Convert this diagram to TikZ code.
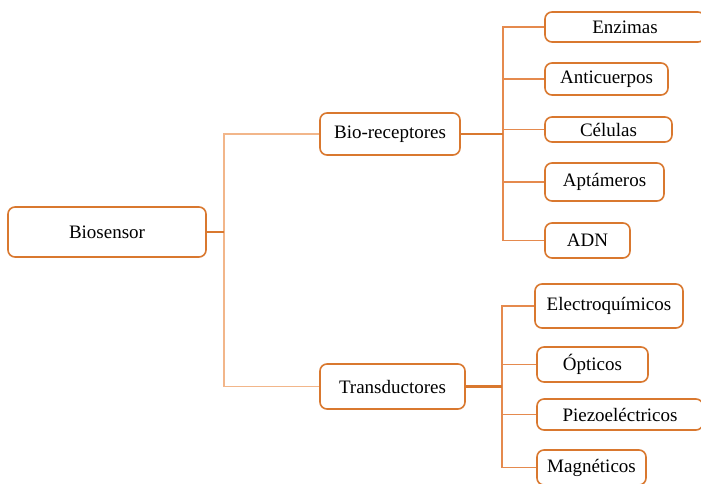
\documentclass[tikz,border=0pt]{standalone}
\usepackage{fontspec}
\setmainfont{Liberation Serif}
\usetikzlibrary{positioning,calc}
\definecolor{boxColor}{HTML}{D9782F}
\definecolor{lineColor}{HTML}{E58A4E}
\definecolor{paleColor}{HTML}{F2B68A}
\tikzset{
	item/.style={draw=boxColor, line width=1.6pt, rounded corners=7pt, fill=white,
		inner sep=0pt, font=\fontsize{19}{22}\selectfont},
	stub/.style={draw=boxColor, line width=2.4pt},
	branch/.style={draw=lineColor, line width=1.7pt},
	palebranch/.style={draw=paleColor, line width=1.9pt}
}
\begin{document}
\begin{tikzpicture}[x=1pt,y=-1pt]
	\useasboundingbox (0,0) rectangle (701,483);
	% root and first level
	\node[item, minimum width=198pt, minimum height=50pt] (bios) at (107, 232) {Biosensor};
	\node[item, minimum width=140pt, minimum height=42pt] (brec) at (390, 134) {Bio-receptores};
	\node[item, minimum width=145pt, minimum height=45pt] (trans) at (392.5, 386.5) {Transductores};
	
	% bio-receptores
	\node[item, minimum width=160pt, minimum height=30pt] (enz) at (625, 27) {Enzimas};
	\node[item, minimum width=123pt, minimum height=32pt] (anti) at (606.5, 79) {Anticuerpos};
	\node[item, minimum width=127pt, minimum height=25pt] (cel) at (608.5, 129.5) {Células};
	\node[item, minimum width=119pt, minimum height=38pt] (apt) at (604.5, 182) {Aptámeros};
	\node[item, minimum width=85pt, minimum height=35pt] (adn) at (587.5, 240.5) {ADN};
	
	% transductores
	\node[item, minimum width=148pt, minimum height=44pt] (elec) at (609, 306) {Electroquímicos};
	\node[item, minimum width=111pt, minimum height=35pt] (opt) at (592.5, 364.5) {Ópticos};
	\node[item, minimum width=166pt, minimum height=31pt] (piezo) at (620, 414.5) {Piezoeléctricos};
	\node[item, minimum width=109pt, minimum height=35pt] (mag) at (591.5, 467.5) {Magnéticos};
	
	\coordinate (j0) at (224, 232);
	\coordinate (j1) at (503, 134);
	\coordinate (j2) at (502, 386.5);
	
	\begin{scope}[on background layer/.try]
		\path[palebranch] (j0) |- (brec.west);
		\path[palebranch] (j0) |- (trans.west);
		\path[stub] (bios.east) -- (j0);
		\foreach \n in {enz,anti,cel,apt,adn}
			\path[branch] (j1) |- (\n.west);
		\path[stub] (brec.east) -- (j1);
		\foreach \n in {elec,opt,piezo,mag}
			\path[branch] (j2) |- (\n.west);
		\path[stub] (trans.east) -- (j2);
	\end{scope}
\end{tikzpicture}
\end{document}
